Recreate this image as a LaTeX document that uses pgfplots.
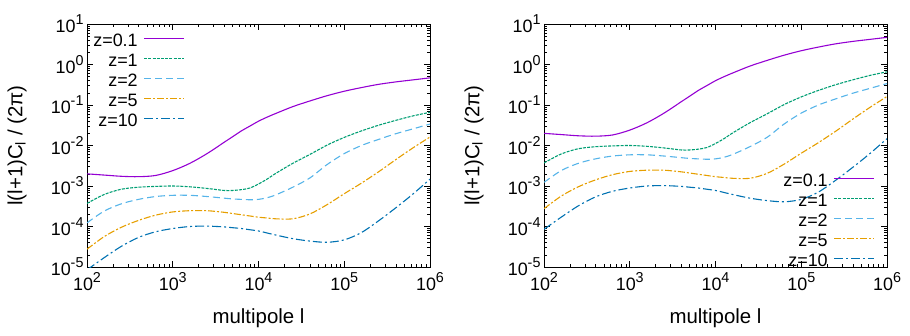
\documentclass[border=0pt]{standalone}
\usepackage{pgfplots}
\usepackage{pgfplotstable}
\pgfplotsset{compat=1.18}
\usepackage{fontspec}
\setmainfont{Liberation Sans}
\definecolor{c1}{HTML}{9400D3}
\definecolor{c2}{HTML}{009E73}
\definecolor{c3}{HTML}{56B4E9}
\definecolor{c4}{HTML}{E69F00}
\definecolor{c5}{HTML}{0072B2}
\newcommand{\tp}[1]{10\raisebox{0.45em}{\fontsize{14.4}{14.4}\selectfont #1}}

\pgfplotstableread{
l        a         b         c         d         e
100      1.995e-3  3.715e-4  1.230e-4  2.754e-5  8.511e-6
158.5    1.862e-3  6.166e-4  2.399e-4  5.623e-5  1.698e-5
251.2    1.738e-3  8.318e-4  3.631e-4  9.550e-5  3.236e-5
398.1    1.698e-3  9.333e-4  4.677e-4  1.413e-4  5.370e-5
631.0    1.820e-3  9.772e-4  5.495e-4  1.905e-4  7.413e-5
1000     2.399e-3  1.000e-3  5.888e-4  2.291e-4  8.913e-5
1585     3.631e-3  9.550e-4  5.888e-4  2.455e-4  1.000e-4
2512     6.310e-3  8.710e-4  5.495e-4  2.455e-4  1.023e-4
3981     1.202e-2  7.762e-4  5.012e-4  2.239e-4  9.772e-5
5012     1.660e-2  7.762e-4  4.786e-4  2.089e-4  9.333e-5
6310     2.291e-2  8.128e-4  4.677e-4  1.950e-4  8.913e-5
7943     3.020e-2  8.913e-4  4.571e-4  1.820e-4  8.318e-5
10000    3.981e-2  1.122e-3  4.677e-4  1.698e-4  7.762e-5
12589    5.012e-2  1.479e-3  5.129e-4  1.622e-4  6.918e-5
15849    6.166e-2  2.042e-3  6.026e-4  1.549e-4  6.166e-5
25119    9.120e-2  3.631e-3  9.333e-4  1.549e-4  5.012e-5
39811    1.259e-1  6.026e-3  1.585e-3  2.042e-4  4.365e-5
63096    1.698e-1  1.023e-2  3.388e-3  3.467e-4  4.074e-5
100000   2.188e-1  1.585e-2  6.310e-3  6.457e-4  4.677e-5
158489   2.692e-1  2.291e-2  1.000e-2  1.175e-3  7.079e-5
251189   3.236e-1  3.162e-2  1.413e-2  2.239e-3  1.380e-4
398107   3.715e-1  4.169e-2  1.950e-2  4.467e-3  2.884e-4
630957   4.169e-1  5.370e-2  2.570e-2  8.710e-3  6.310e-4
1000000  4.677e-1  6.607e-2  3.388e-2  1.622e-2  1.479e-3
}\leftdata

\pgfplotstableread{
l        a         b         c         d         e
100      1.995e-2  3.715e-3  1.230e-3  2.754e-4  8.511e-5
158.5    1.862e-2  6.166e-3  2.399e-3  5.623e-4  1.698e-4
251.2    1.738e-2  8.318e-3  3.631e-3  9.550e-4  3.236e-4
398.1    1.698e-2  9.333e-3  4.677e-3  1.413e-3  5.370e-4
631.0    1.820e-2  9.772e-3  5.495e-3  1.905e-3  7.413e-4
1000     2.399e-2  1.000e-2  5.888e-3  2.291e-3  8.913e-4
1585     3.631e-2  9.550e-3  5.888e-3  2.455e-3  1.000e-3
2512     6.310e-2  8.710e-3  5.495e-3  2.455e-3  1.023e-3
3981     1.202e-1  7.762e-3  5.012e-3  2.239e-3  9.772e-4
5012     1.660e-1  7.762e-3  4.786e-3  2.089e-3  9.333e-4
6310     2.291e-1  8.128e-3  4.677e-3  1.950e-3  8.913e-4
7943     3.020e-1  8.913e-3  4.571e-3  1.820e-3  8.318e-4
10000    3.981e-1  1.122e-2  4.677e-3  1.698e-3  7.762e-4
12589    5.012e-1  1.479e-2  5.129e-3  1.622e-3  6.918e-4
15849    6.166e-1  2.042e-2  6.026e-3  1.549e-3  6.166e-4
25119    9.120e-1  3.631e-2  9.333e-3  1.549e-3  5.012e-4
39811    1.259e0   6.026e-2  1.585e-2  2.042e-3  4.365e-4
63096    1.698e0   1.023e-1  3.388e-2  3.467e-3  4.074e-4
100000   2.188e0   1.585e-1  6.310e-2  6.457e-3  4.677e-4
158489   2.692e0   2.291e-1  1.000e-1  1.175e-2  7.079e-4
251189   3.236e0   3.162e-1  1.413e-1  2.239e-2  1.380e-3
398107   3.715e0   4.169e-1  1.950e-1  4.467e-2  2.884e-3
630957   4.169e0   5.370e-1  2.570e-1  8.710e-2  6.310e-3
1000000  4.677e0   6.607e-1  3.388e-1  1.622e-1  1.479e-2
}\rightdata

\tikzset{
  s1/.style={c1, line width=1.1pt},
  s2/.style={c2, line width=1.1pt, dash pattern=on 3bp off 1.2bp},
  s3/.style={c3, line width=1.1pt, dash pattern=on 7bp off 4bp},
  s4/.style={c4, line width=1.1pt, dash pattern=on 7bp off 2bp on 2bp off 2bp},
  s5/.style={c5, line width=1.1pt, dash pattern=on 9bp off 3bp on 2bp off 3bp},
}

\begin{document}
\begin{tikzpicture}
\useasboundingbox (0bp,0bp) rectangle (910bp,336bp);
\begin{axis}[xmode=log, ymode=log,
    scale only axis, width=343bp, height=243bp,
    at={(87bp,69bp)}, anchor=south west,
    xmin=1e2, xmax=1e6, ymin=1e-5, ymax=1e1,
    xtick={1e2,1e3,1e4,1e5,1e6},
    xticklabels={\tp{2},\tp{3},\tp{4},\tp{5},\tp{6}},
    ytick={1e-5,1e-4,1e-3,1e-2,1e-1,1e0,1e1},
    yticklabels={\tp{-5},\tp{-4},\tp{-3},\tp{-2},\tp{-1},\tp{0},\tp{1}},
    tick align=inside,
    major tick length=6bp, minor tick length=3bp,
    axis line style={line width=1pt},
    tick style={black, line width=0.6pt},
    ticklabel style={font=\fontsize{18}{18}\selectfont},
    xticklabel style={yshift=-2bp},
    label style={font=\fontsize{20.5}{20.5}\selectfont},
    xlabel={multipole l},
    ylabel={l(l+1)C\textsubscript{l} / (2π)},
    xlabel style={at={(axis description cs:0.5,-0.21)},anchor=center},
    ylabel style={at={(axis description cs:-0.204,0.5)},anchor=center,rotate=0},
    legend plot pos=right,
    legend cell align=right,
    legend style={draw=none, fill=none, inner sep=0pt,
      font=\fontsize{18}{18}\selectfont, row sep=5bp, column sep=6bp,
      nodes={inner sep=0pt, text height=12bp, text depth=3bp},
      at={(axis description cs:0.2857,0.957)}, anchor=north east},
    legend image code/.code={\draw[#1] (0bp,4bp) -- (40bp,4bp);},
    no marks]
\addplot[s1, smooth] table[x=l,y=a]{\leftdata};
\addlegendentry{z=0.1}
\addplot[s2, smooth] table[x=l,y=b]{\leftdata};
\addlegendentry{z=1}
\addplot[s3, smooth] table[x=l,y=c]{\leftdata};
\addlegendentry{z=2}
\addplot[s4, smooth] table[x=l,y=d]{\leftdata};
\addlegendentry{z=5}
\addplot[s5, smooth] table[x=l,y=e]{\leftdata};
\addlegendentry{z=10}
\end{axis}
\begin{axis}[xmode=log, ymode=log,
    scale only axis, width=343bp, height=243bp,
    at={(544bp,69bp)}, anchor=south west,
    xmin=1e2, xmax=1e6, ymin=1e-5, ymax=1e1,
    xtick={1e2,1e3,1e4,1e5,1e6},
    xticklabels={\tp{2},\tp{3},\tp{4},\tp{5},\tp{6}},
    ytick={1e-5,1e-4,1e-3,1e-2,1e-1,1e0,1e1},
    yticklabels={\tp{-5},\tp{-4},\tp{-3},\tp{-2},\tp{-1},\tp{0},\tp{1}},
    tick align=inside,
    major tick length=6bp, minor tick length=3bp,
    axis line style={line width=1pt},
    tick style={black, line width=0.6pt},
    ticklabel style={font=\fontsize{18}{18}\selectfont},
    xticklabel style={yshift=-2bp},
    label style={font=\fontsize{20.5}{20.5}\selectfont},
    xlabel={multipole l},
    ylabel={l(l+1)C\textsubscript{l} / (2π)},
    xlabel style={at={(axis description cs:0.5,-0.21)},anchor=center},
    ylabel style={at={(axis description cs:-0.204,0.5)},anchor=center,rotate=0},
    legend plot pos=right,
    legend cell align=right,
    legend style={draw=none, fill=none, inner sep=0pt,
      font=\fontsize{18}{18}\selectfont, row sep=5bp, column sep=6bp,
      nodes={inner sep=0pt, text height=12bp, text depth=3bp},
      at={(axis description cs:0.965,0.381)}, anchor=north east},
    legend image code/.code={\draw[#1] (0bp,4bp) -- (40bp,4bp);},
    no marks]
\addplot[s1, smooth] table[x=l,y=a]{\rightdata};
\addlegendentry{z=0.1}
\addplot[s2, smooth] table[x=l,y=b]{\rightdata};
\addlegendentry{z=1}
\addplot[s3, smooth] table[x=l,y=c]{\rightdata};
\addlegendentry{z=2}
\addplot[s4, smooth] table[x=l,y=d]{\rightdata};
\addlegendentry{z=5}
\addplot[s5, smooth] table[x=l,y=e]{\rightdata};
\addlegendentry{z=10}
\end{axis}
\end{tikzpicture}
\end{document}
